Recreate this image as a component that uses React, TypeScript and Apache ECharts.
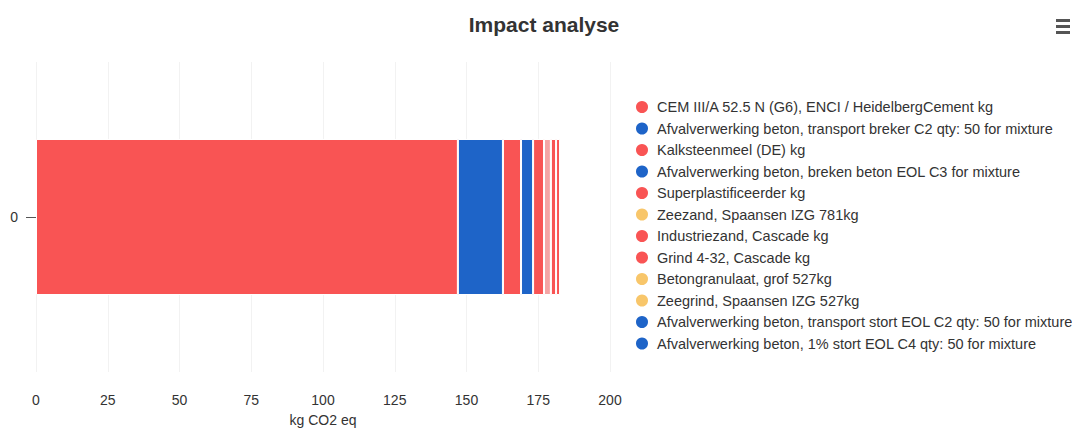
import React, { useEffect, useRef } from "react";
import * as echarts from "echarts";

const categories = ["0"];
const seriesNames = [
  "CEM III/A 52.5 N (G6), ENCI / HeidelbergCement kg",
  "Afvalverwerking beton, transport breker C2 qty: 50 for mixture",
  "Kalksteenmeel (DE) kg",
  "Afvalverwerking beton, breken beton EOL C3 for mixture",
  "Superplastificeerder kg",
  "Zeezand, Spaansen IZG 781kg",
  "Industriezand, Cascade kg",
  "Grind 4-32, Cascade kg",
  "Betongranulaat, grof 527kg",
  "Zeegrind, Spaansen IZG 527kg",
  "Afvalverwerking beton, transport stort EOL C2 qty: 50 for mixture",
  "Afvalverwerking beton, 1% stort EOL C4 qty: 50 for mixture",
];
const seriesValues = [147.0, 15.7, 6.3, 4.2, 3.8, 2.4, 1.8, 1.4, 0.1, 0.1, 0.1, 0.05];
const xTicks = [0, 25, 50, 75, 100, 125, 150, 175, 200];

const RED = "#f95454";
const BLUE = "#1e64c8";
const YELLOW = "#f8c66a";
const seriesColors = [RED, BLUE, RED, BLUE, RED, YELLOW, RED, RED, YELLOW, YELLOW, BLUE, BLUE];
// Zeezand segment shows as a pale dotted band in the bar
const barColors = [RED, BLUE, RED, BLUE, RED, "#f4a5a5", RED, RED, YELLOW, YELLOW, BLUE, BLUE];

export default function App() {
  const ref = useRef<HTMLDivElement>(null);
  useEffect(() => {
    document.body.style.margin = "0";
    const chart = echarts.init(ref.current!, null, { renderer: "svg" });
    const font = "Liberation Sans, Arial, sans-serif";
    chart.setOption({
      animation: false,
      backgroundColor: "#fff",
      title: {
        text: "Impact analyse",
        top: 9,
        left: 539,
        textAlign: "center",
        textStyle: { fontFamily: font, fontSize: 21, fontWeight: "bold", color: "#333" },
      },
      legend: {
        orient: "vertical",
        left: 629,
        top: 94,
        icon: "circle",
        itemWidth: 14,
        itemHeight: 14,
        itemGap: 5.5,
        textStyle: { fontFamily: font, fontSize: 14.5, lineHeight: 14, color: "#333", padding: [0, 0, 0, 3] },
        data: seriesNames.map((n, i) => ({ name: n, itemStyle: { color: seriesColors[i] } })),
      },
      grid: { left: 36, width: 574, top: 62, height: 316, containLabel: false },
      xAxis: {
        type: "value",
        min: 0,
        max: 200,
        interval: 25,
        name: "kg CO2 eq",
        nameLocation: "middle",
        nameGap: 41,
        nameTextStyle: { fontFamily: font, fontSize: 14, color: "#333" },
        axisLine: { show: false },
        axisTick: { show: false },
        axisLabel: {
          fontFamily: font,
          fontSize: 14,
          color: "#333",
          margin: 21,
          formatter: (v: number) => (xTicks.includes(v) ? String(v) : ""),
        },
        splitLine: { show: true, lineStyle: { color: "#f2f2f2", width: 1 } },
      },
      yAxis: {
        type: "category",
        data: categories,
        axisLine: { show: false },
        axisTick: { show: true, alignWithLabel: true, length: 10, lineStyle: { color: "#555" } },
        axisLabel: { fontFamily: font, fontSize: 14, color: "#333", margin: 18 },
      },
      series: seriesNames.map((n, i) => ({
        name: n,
        type: "bar",
        stack: "total",
        barWidth: 156,
        data: [seriesValues[i]],
        itemStyle: { color: barColors[i], borderColor: "#fff", borderWidth: 1 },
      })),
      graphic: [
        { type: "rect", shape: { x: 1056, y: 19, width: 14, height: 3 }, style: { fill: "#555" } },
        { type: "rect", shape: { x: 1056, y: 25, width: 14, height: 3 }, style: { fill: "#555" } },
        { type: "rect", shape: { x: 1056, y: 31, width: 14, height: 3 }, style: { fill: "#555" } },
      ],
    });
    return () => chart.dispose();
  }, []);
  return <div ref={ref} style={{ width: 1072, height: 432 }} />;
}
